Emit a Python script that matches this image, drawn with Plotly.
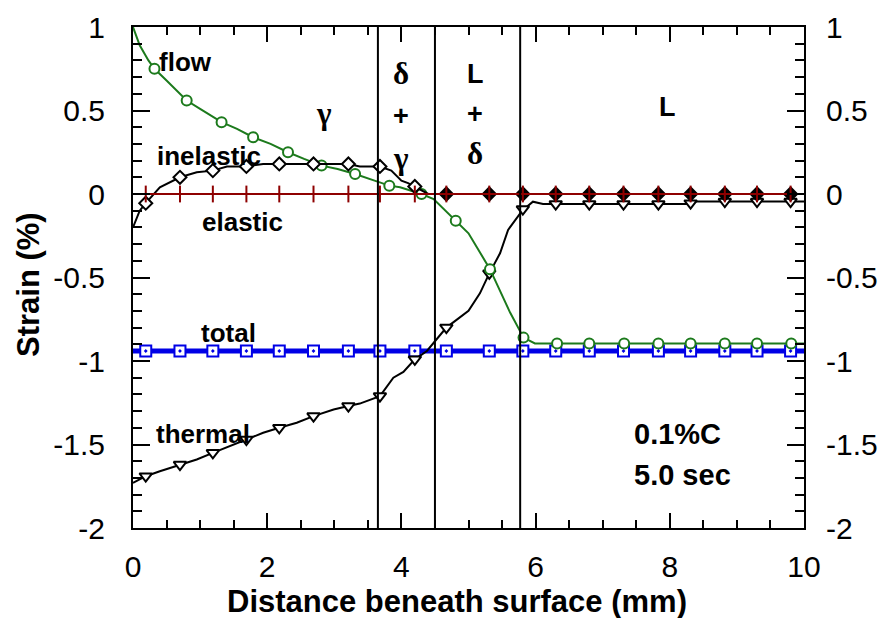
import plotly.graph_objects as go

# ---------------- data ----------------
x_ticks = [0, 2, 4, 6, 8, 10]
x_tick_text = ["0", "2", "4", "6", "8", "10"]
y_ticks = [1, 0.5, 0, -0.5, -1, -1.5, -2]
y_tick_text = ["1", "0.5", "0", "-0.5", "-1", "-1.5", "-2"]

# common marker positions (mm)
x_mark = [0.19, 0.70, 1.19, 1.69, 2.18, 2.69, 3.21, 3.68, 4.20, 4.67,
          5.31, 5.81, 6.30, 6.80, 7.31, 7.83, 8.31, 8.82, 9.30, 9.80]

# flow strain
flow_x = [0, 0.03, 0.1, 0.23, 0.32, 0.5, 0.8, 1.0, 1.32, 1.55, 1.79, 2.05, 2.31,
          2.55, 2.81, 3.05, 3.31, 3.6, 3.82, 3.98, 4.3, 4.48, 4.81, 5.0, 5.32,
          5.62, 5.82, 5.99, 10.0]
flow_y = [1.0, 0.97, 0.89, 0.80, 0.75, 0.68, 0.56, 0.51, 0.43, 0.39, 0.34, 0.30, 0.25,
          0.21, 0.17, 0.15, 0.12, 0.08, 0.05, 0.04, 0.0, -0.03, -0.16, -0.235, -0.45,
          -0.71, -0.86, -0.895, -0.895]
flow_mark_x = [0.32, 0.80, 1.32, 1.79, 2.31, 2.81, 3.31, 3.82, 4.30, 4.81,
               5.32, 5.82, 6.32, 6.80, 7.32, 7.83, 8.31, 8.82, 9.30, 9.81]
flow_mark_y = [0.75, 0.56, 0.43, 0.34, 0.25, 0.17, 0.12, 0.05, 0.0, -0.16,
               -0.45, -0.86, -0.895, -0.895, -0.895, -0.895, -0.895, -0.895, -0.895, -0.895]

# inelastic strain
inel_x = [0, 0.1, 0.19, 0.40, 0.70, 0.95, 1.19, 1.40, 1.69, 1.94, 2.18, 2.69, 3.21,
          3.38, 3.68, 3.85, 4.0, 4.1, 4.2, 4.4, 10.0]
inel_y = [-0.2, -0.1, -0.055, 0.04, 0.10, 0.13, 0.14, 0.165, 0.165, 0.18, 0.18, 0.18, 0.18,
          0.165, 0.165, 0.14, 0.08, 0.065, 0.045, 0.0, 0.0]
inel_mark_y = [-0.055, 0.10, 0.14, 0.165, 0.18, 0.18, 0.18, 0.165, 0.045, 0.0,
               0.0, 0.0, 0.0, 0.0, 0.0, 0.0, 0.0, 0.0, 0.0, 0.0]

# elastic strain
elastic_x = [0, 10.0]
elastic_y = [0.0, 0.0]
elastic_mark_y = [0.0] * 20

# total strain
total_x = [0, 10.0]
total_y = [-0.94, -0.94]
total_mark_y = [-0.94] * 20

# thermal strain
therm_x = [0, 0.19, 0.40, 0.70, 0.95, 1.19, 1.45, 1.69, 1.94, 2.18, 2.44, 2.69, 2.99, 3.21,
           3.38, 3.68, 3.88, 4.03, 4.2, 4.38, 4.67, 5.0, 5.17, 5.31, 5.47, 5.59, 5.72,
           5.80, 5.96, 6.11, 8.25, 8.40, 10.0]
therm_y = [-1.73, -1.69, -1.66, -1.62, -1.59, -1.55, -1.51, -1.47, -1.43, -1.40, -1.37,
           -1.33, -1.29, -1.27, -1.255, -1.21, -1.10, -1.065, -0.99, -0.94, -0.80, -0.70,
           -0.595, -0.475, -0.355, -0.215, -0.146, -0.10, -0.046, -0.06, -0.06, -0.045, -0.045]
therm_mark_y = [-1.69, -1.62, -1.55, -1.47, -1.40, -1.33, -1.27, -1.21, -0.99, -0.80,
                -0.475, -0.09, -0.06, -0.06, -0.06, -0.06, -0.055, -0.045, -0.045, -0.045]

phase_boundaries = [3.65, 4.5, 5.77]

series_labels = [("flow", 0.78, 0.79), ("inelastic", 1.14, 0.23), ("elastic", 1.63, -0.17),
                 ("total", 1.43, -0.835), ("thermal", 1.04, -1.44)]
greek_labels = [("γ", 2.85, 0.48), ("δ", 4.00, 0.72), ("γ", 4.00, 0.21), ("δ", 5.10, 0.245)]
latin_labels = [("+", 4.00, 0.47), ("L", 5.10, 0.72), ("+", 5.10, 0.48), ("L", 7.97, 0.52)]
condition_labels = [("0.1%C", 7.43, -1.44), ("5.0 sec", 7.43, -1.68)]
x_title = "Distance beneath surface (mm)"
y_title = "Strain (%)"

# ---------------- style ----------------
FONT = "Liberation Sans, Arial, sans-serif"
SERIF = "Liberation Serif, Times New Roman, serif"
GREEN = "#1c7a1c"
DARKRED = "#8e0000"
BLUE = "#0000e6"

fig = go.Figure()

# total (blue, thick)
fig.add_trace(go.Scatter(x=total_x, y=total_y, mode="lines",
                         line=dict(color=BLUE, width=5), showlegend=False))
fig.add_trace(go.Scatter(x=x_mark, y=total_mark_y, mode="markers",
                         marker=dict(symbol="square-dot", size=11, color="white",
                                     line=dict(color=BLUE, width=2)), showlegend=False))
# thermal
fig.add_trace(go.Scatter(x=therm_x, y=therm_y, mode="lines",
                         line=dict(color="black", width=2), showlegend=False))
fig.add_trace(go.Scatter(x=x_mark, y=therm_mark_y, mode="markers",
                         marker=dict(symbol="triangle-down", size=11, color="white",
                                     line=dict(color="black", width=2)), showlegend=False))
# flow
fig.add_trace(go.Scatter(x=flow_x, y=flow_y, mode="lines",
                         line=dict(color=GREEN, width=2), showlegend=False))
fig.add_trace(go.Scatter(x=flow_mark_x, y=flow_mark_y, mode="markers",
                         marker=dict(symbol="circle", size=10, color="white",
                                     line=dict(color=GREEN, width=2)), showlegend=False))
# inelastic
fig.add_trace(go.Scatter(x=inel_x, y=inel_y, mode="lines",
                         line=dict(color="black", width=2), showlegend=False))
fig.add_trace(go.Scatter(x=x_mark, y=inel_mark_y, mode="markers",
                         marker=dict(symbol="diamond", size=10,
                                     color=["white" if xv < 4.4 else "black" for xv in x_mark],
                                     line=dict(color="black", width=2)), showlegend=False))
# elastic
fig.add_trace(go.Scatter(x=elastic_x, y=elastic_y, mode="lines",
                         line=dict(color=DARKRED, width=2), showlegend=False))
fig.add_trace(go.Scatter(x=x_mark, y=elastic_mark_y, mode="markers",
                         marker=dict(symbol="line-ns", size=12,
                                     line=dict(color=DARKRED, width=2)), showlegend=False))
# dummy trace for right axis
fig.add_trace(go.Scatter(x=[None], y=[None], yaxis="y2", showlegend=False, hoverinfo="skip"))

# phase boundaries
for xb in phase_boundaries:
    fig.add_shape(type="line", x0=xb, x1=xb, y0=0, y1=1, xref="x", yref="paper",
                  line=dict(color="black", width=2))

for txt, xv, yv in series_labels:
    fig.add_annotation(x=xv, y=yv, text=txt, showarrow=False,
                       font=dict(family=FONT, size=26, color="black", weight="bold"))
for txt, xv, yv in greek_labels:
    fig.add_annotation(x=xv, y=yv, text=txt, showarrow=False,
                       font=dict(family=SERIF, size=31, color="black", weight="bold"))
for txt, xv, yv in latin_labels:
    fig.add_annotation(x=xv, y=yv, text=txt, showarrow=False,
                       font=dict(family=FONT, size=27, color="black", weight="bold"))
for txt, xv, yv in condition_labels:
    fig.add_annotation(x=xv, y=yv, text=txt, showarrow=False, xanchor="left",
                       font=dict(family=FONT, size=29, color="black", weight="bold"))

# axis titles
fig.add_annotation(x=0.4836, y=0, xref="paper", yref="paper", yshift=-73, yanchor="middle",
                   text=x_title, showarrow=False,
                   font=dict(family=FONT, size=31, color="black", weight="bold"))
fig.add_annotation(x=0, y=0.485, xref="paper", yref="paper", xshift=-105, xanchor="center",
                   yanchor="middle", text=y_title, textangle=-90, showarrow=False,
                   font=dict(family=FONT, size=31, color="black", weight="bold"))

axis_common = dict(showgrid=False, zeroline=False, showline=True, linecolor="black",
                   linewidth=2, ticks="inside", tickcolor="black", tickwidth=2,
                   automargin=False,
                   tickfont=dict(family=FONT, size=30, color="black"))

# the page body adds an 8px offset; the figure is sized/margined to compensate
fig.update_layout(
    width=879, height=610,
    margin=dict(l=125, r=83, t=19, b=90),
    paper_bgcolor="white", plot_bgcolor="white",
    xaxis=dict(range=[0, 10], tickmode="array", tickvals=x_ticks, ticktext=x_tick_text,
               ticklen=15, mirror="ticks", ticklabelstandoff=11,
               minor=dict(tickmode="linear", tick0=0, dtick=0.5, ticklen=8, tickwidth=1.5,
                          ticks="inside", tickcolor="black"),
               **axis_common),
    yaxis=dict(range=[-2, 1], tickmode="array", tickvals=y_ticks, ticktext=y_tick_text,
               ticklen=17, mirror="ticks", ticklabelstandoff=20,
               minor=dict(tickmode="linear", tick0=0, dtick=0.1, ticklen=9, tickwidth=1.5,
                          ticks="inside", tickcolor="black"),
               **axis_common),
    yaxis2=dict(range=[-2, 1], overlaying="y", side="right", tickmode="array",
                tickvals=y_ticks, ticktext=y_tick_text, showgrid=False, zeroline=False,
                showline=False, ticks="", ticklabelstandoff=21, automargin=False,
                tickfont=dict(family=FONT, size=30, color="black")),
)

fig.write_html("out.html")
